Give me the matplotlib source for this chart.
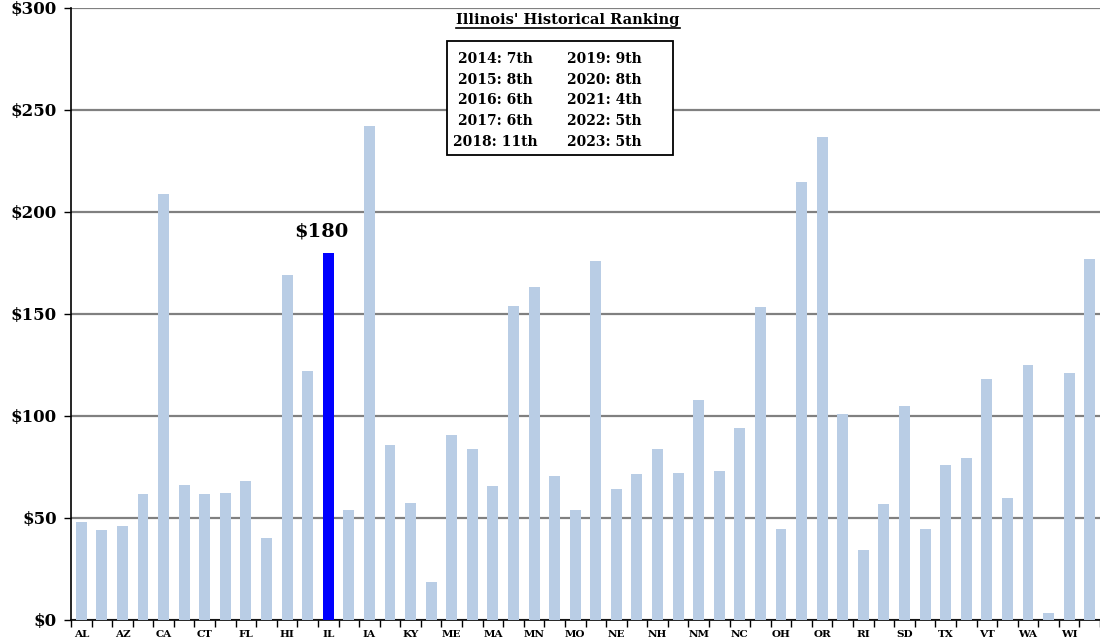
import matplotlib
matplotlib.use('Agg')
import matplotlib.pyplot as plt
from matplotlib.ticker import FuncFormatter, FixedLocator

# state abbreviations, alphabetical by state name
states = ['AL', 'AK', 'AZ', 'AR', 'CA', 'CO', 'CT', 'DE', 'FL', 'GA',
          'HI', 'ID', 'IL', 'IN', 'IA', 'KS', 'KY', 'LA', 'ME', 'MD',
          'MA', 'MI', 'MN', 'MS', 'MO', 'MT', 'NE', 'NV', 'NH', 'NJ',
          'NM', 'NY', 'NC', 'ND', 'OH', 'OK', 'OR', 'PA', 'RI', 'SC',
          'SD', 'TN', 'TX', 'UT', 'VT', 'VA', 'WA', 'WV', 'WI', 'WY']

values = [48, 44, 46, 62, 209, 66, 62, 62.5, 68, 40,
          169, 122, 180, 54, 242, 86, 57.5, 18.5, 90.5, 84,
          65.5, 154, 163, 70.5, 54, 176, 64, 71.5, 84, 72,
          108, 73, 94, 153.5, 44.5, 214.5, 237, 101, 34.5, 57,
          105, 44.5, 76, 79.5, 118, 60, 125, 3.5, 121, 177]

highlight = 'IL'
ranking_left = ['2014: 7th', '2015: 8th', '2016: 6th', '2017: 6th', '2018: 11th']
ranking_right = ['2019: 9th', '2020: 8th', '2021: 4th', '2022: 5th', '2023: 5th']

plt.rcParams['font.family'] = ['DejaVu Serif']
plt.rcParams['font.weight'] = 'bold'

fig = plt.figure(figsize=(11, 6.42), dpi=100)
ax = fig.add_axes([71 / 1100, 1 - 620 / 642, 1 - 71 / 1100, 612 / 642])

x = list(range(len(states)))
colors = ['#0000FF' if s == highlight else '#B9CDE5' for s in states]
ax.bar(x, values, width=0.53, color=colors, zorder=3)

ax.set_xlim(-0.5, len(states) - 0.5)
ax.set_ylim(0, 300)
ax.set_yticks(range(0, 301, 50))
ax.yaxis.set_major_formatter(FuncFormatter(lambda v, p: r'\$%d' % v))
ax.grid(axis='y', color='#808080', linewidth=1.6, zorder=1)

# ticks at category boundaries, labels on every other state
ax.xaxis.set_major_locator(FixedLocator([i - 0.5 for i in range(len(states) + 1)]))
ax.set_xticklabels([])
ax.set_xticks(x[::2], minor=True)
ax.set_xticklabels(states[::2], minor=True, fontsize=7.5, fontweight='bold')
ax.tick_params(axis='x', which='minor', length=0, pad=7)
ax.tick_params(axis='x', which='major', length=5, width=1, direction='out')
ax.tick_params(axis='y', length=5, width=1, labelsize=12, pad=5)

for side in ['top', 'right']:
    ax.spines[side].set_visible(False)
ax.spines['left'].set_linewidth(1.2)
ax.spines['bottom'].set_linewidth(1.2)

# label over Illinois
il = states.index(highlight)
ax.text(il - 0.35, values[il] + 6, r'\$180', ha='center', va='bottom',
        fontsize=14, fontweight='bold')

# historical ranking box
title = fig.text(568 / 1100, 1 - 20 / 642, "Illinois' Historical Ranking",
                 ha='center', va='center', fontsize=10.5, fontweight='bold')
fig.canvas.draw()
bb = title.get_window_extent()
fig.add_artist(plt.Line2D([bb.x0 / 1100, bb.x1 / 1100],
                          [(bb.y0 - 1) / 642, (bb.y0 - 1) / 642],
                          color='black', linewidth=1.2))

box = plt.Rectangle((447 / 1100, 1 - 155 / 642), 226 / 1100, 114 / 642,
                    transform=fig.transFigure, facecolor='white',
                    edgecolor='black', linewidth=1.3, zorder=5)
fig.add_artist(box)
for i in range(len(ranking_left)):
    yy = 1 - (59 + i * 20.7) / 642
    fig.text(495 / 1100, yy, ranking_left[i], ha='center', va='center',
             fontsize=10, fontweight='bold', zorder=6)
    fig.text(604 / 1100, yy, ranking_right[i], ha='center', va='center',
             fontsize=10, fontweight='bold', zorder=6)

fig.savefig('out.png', dpi=100)
